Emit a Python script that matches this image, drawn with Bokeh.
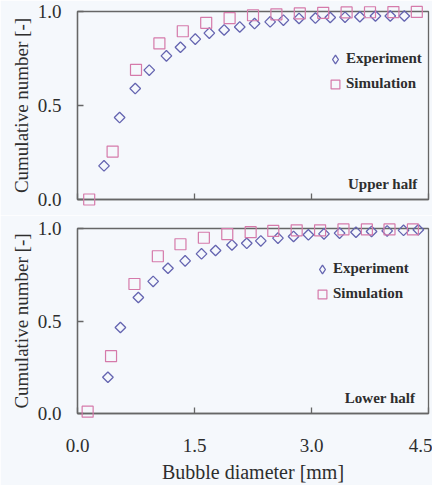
from bokeh.plotting import figure
from bokeh.layouts import column
from bokeh.models import (FixedTicker, Legend, LegendItem, Label, Range1d, ColumnDataSource,
                          CustomLabelingPolicy)
from bokeh.embed import file_html
from bokeh.resources import INLINE
import numpy as np
import math

# ---- data ----
upper_sim_x = [0.15, 0.45, 0.75, 1.05, 1.35, 1.65, 1.95, 2.25, 2.55, 2.85, 3.15, 3.45, 3.75, 4.05, 4.35]
upper_sim_y = [0.0, 0.255, 0.69, 0.83, 0.895, 0.94, 0.965, 0.98, 0.985, 0.99, 0.993, 0.995, 0.996, 0.997, 0.998]
upper_exp_x = [0.34, 0.54, 0.74, 0.92, 1.14, 1.32, 1.51, 1.69, 1.88, 2.08, 2.27, 2.47, 2.64, 2.84, 3.05,
               3.24, 3.43, 3.62, 3.82, 4.01, 4.19]
upper_exp_y = [0.179, 0.436, 0.59, 0.688, 0.764, 0.81, 0.853, 0.885, 0.902, 0.918, 0.936, 0.945, 0.954,
               0.963, 0.965, 0.968, 0.97, 0.972, 0.976, 0.976, 0.976]

lower_sim_x = [0.13, 0.43, 0.73, 1.03, 1.32, 1.62, 1.92, 2.22, 2.51, 2.81, 3.11, 3.41, 3.71, 4.0, 4.3]
lower_sim_y = [0.01, 0.31, 0.70, 0.85, 0.915, 0.95, 0.97, 0.98, 0.987, 0.99, 0.99, 0.995, 0.995, 0.995, 0.995]
lower_exp_x = [0.39, 0.55, 0.78, 0.97, 1.16, 1.38, 1.59, 1.77, 1.98, 2.17, 2.35, 2.57, 2.77, 2.96, 3.16,
               3.36, 3.57, 3.77, 3.97, 4.18, 4.37]
lower_exp_y = [0.196, 0.465, 0.627, 0.714, 0.785, 0.825, 0.863, 0.881, 0.911, 0.92, 0.933, 0.948, 0.957,
               0.966, 0.971, 0.975, 0.98, 0.984, 0.987, 0.99, 0.993]

x_ticks = [0.0, 1.5, 3.0, 4.5]
x_tick_labels = ["0.0", "1.5", "3.0", "4.5"]
y_ticks = [0.0, 0.5, 1.0]
y_tick_labels = ["0.0", "0.5", "1.0"]

series_names = ["Experiment", "Simulation"]
panel_names = ["Upper half", "Lower half"]
x_title = "Bubble diameter [mm]"
y_title = "Cumulative number [-]"

# ---- styles ----
FONT = "Liberation Serif"
BG = "#f5f8fc"
FRAME = "#666666"
TXT = "#2e2e2e"
EXP_C = "#6464b0"
SIM_C = "#d57aaa"


def make_panel(sim_x, sim_y, exp_x, exp_y, panel_label, top_border, frame_h, bottom_border, show_x, leg_loc, lab_xy):
    p = figure(frame_width=351, frame_height=frame_h, output_backend="svg", toolbar_location=None,
               x_range=Range1d(0, 4.5), y_range=Range1d(0, 1.0),
               min_border_left=77, min_border_right=4, min_border_top=top_border,
               min_border_bottom=bottom_border)
    p.background_fill_color = BG
    p.border_fill_color = BG
    p.outline_line_color = FRAME
    p.outline_line_width = 1.3
    p.grid.visible = False

    exp_src = ColumnDataSource(dict(x=exp_x, y=exp_y, a=[math.pi / 4] * len(exp_x)))
    p.scatter("x", "y", source=exp_src, marker="square", size=7.5, angle="a",
              fill_color=None, line_color=EXP_C, line_width=1.3, level="overlay")
    s = p.scatter(sim_x, sim_y, marker="square", size=11,
                  fill_color=None, line_color=SIM_C, line_width=1.2, level="overlay")
    # legend-only symbol for the experiment series (legend markers are never rotated);
    # it holds a single NaN point, so nothing is drawn in the plot area
    e_leg = p.scatter(np.array([np.nan]), np.array([np.nan]), marker="diamond",
                      fill_color=None, line_color=EXP_C, line_width=1.3)

    for ax in (p.xaxis[0], p.yaxis[0]):
        ax.axis_line_color = FRAME
        ax.axis_line_width = 1.3
        ax.major_tick_line_color = FRAME
        ax.major_tick_line_width = 1.3
        ax.major_tick_in = 6
        ax.major_tick_out = 0
        ax.minor_tick_line_color = None
        ax.major_label_text_font = FONT
        ax.major_label_text_font_size = "19px"
        ax.major_label_text_color = TXT
        ax.axis_label_text_font = FONT
        ax.axis_label_text_font_style = "normal"
        ax.axis_label_text_color = TXT

    p.xaxis.ticker = FixedTicker(ticks=x_ticks)
    p.xaxis.major_label_overrides = dict(zip(x_ticks, x_tick_labels))
    p.yaxis.ticker = FixedTicker(ticks=y_ticks)
    p.yaxis.major_label_overrides = dict(zip(y_ticks, y_tick_labels))
    p.yaxis.major_label_standoff = 16
    p.yaxis.axis_label = y_title
    p.yaxis.axis_label_text_font_size = "19px"
    p.yaxis.axis_label_standoff = 3

    if show_x:
        p.xaxis.major_label_standoff = 25
        p.xaxis.axis_label = x_title
        p.xaxis.axis_label_text_font_size = "20px"
        p.xaxis.axis_label_standoff = 6
    else:
        # upper panel: tick marks only, no tick labels
        p.xaxis.major_label_policy = CustomLabelingPolicy(code="")
        p.xaxis.major_label_standoff = 0

    leg = Legend(items=[LegendItem(label=series_names[0], renderers=[e_leg]),
                        LegendItem(label=series_names[1], renderers=[s])],
                 location=leg_loc, background_fill_alpha=0, border_line_color=None,
                 padding=0, margin=0, spacing=0, glyph_width=22, glyph_height=22,
                 label_height=25, label_standoff=0, label_text_font=FONT,
                 label_text_font_size="15px", label_text_font_style="bold",
                 label_text_color=TXT)
    p.add_layout(leg)

    p.add_layout(Label(x=lab_xy[0], y=lab_xy[1], text=panel_label, text_font=FONT,
                       text_font_size="15px", text_font_style="bold", text_color=TXT,
                       text_align="right", text_baseline="middle"))
    return p


p1 = make_panel(upper_sim_x, upper_sim_y, upper_exp_x, upper_exp_y, panel_names[0],
                11, 188, 12, False, (247, 103), (4.36, 0.085))
p2 = make_panel(lower_sim_x, lower_sim_y, lower_exp_x, lower_exp_y, panel_names[1],
                13, 185, 66, True, (234, 107), (4.33, 0.082))

layout = column(p1, p2, spacing=0)
open("out.html", "w").write(file_html(layout, INLINE))
